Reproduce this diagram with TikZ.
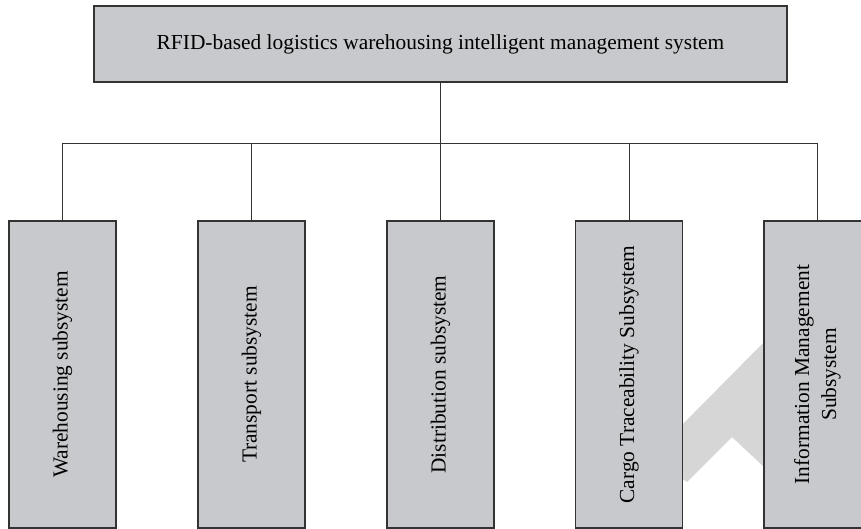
\documentclass[tikz,border=0pt]{standalone}
\usepackage{fontspec}
\setmainfont{Liberation Serif}
\definecolor{boxfill}{HTML}{C8C9CC}
\definecolor{wm}{HTML}{D6D6D6}
\definecolor{linec}{HTML}{333333}
\tikzset{
  topbox/.style={draw=linec, fill=boxfill, line width=1.1pt, minimum width=693pt, minimum height=76pt, inner sep=0pt,
    font=\fontsize{21.4}{26}\selectfont},
  subbox/.style={draw=linec, fill=boxfill, line width=1.1pt, minimum width=107pt, minimum height=307pt, inner sep=0pt},
  vlabel/.style={rotate=90, font=\fontsize{21.4}{27}\selectfont, align=center, inner sep=0pt},
  conn/.style={draw=linec, line width=1pt}
}
\begin{document}
\begin{tikzpicture}[x=1pt, y=-1pt]
\useasboundingbox (0,0) rectangle (861,529);
\begin{scope}
\clip (0,0) rectangle (861,529);
% watermark fragment
\fill[wm] (670,437) -- (764,342) -- (764,467) -- (732,437) -- (687,482) -- (670,470) -- cycle;
\node[topbox] (top) at (440.5,44) {RFID-based logistics warehousing intelligent management system};
\node[subbox] (w) at (62.5,374.5) {};
\node[subbox] (t) at (251.5,374.5) {};
\node[subbox] (d) at (440.5,374.5) {};
\node[subbox] (c) at (629,374.5) {};
\node[subbox] (i) at (817.5,374.5) {};
\node[vlabel] (wl) at (w.center) {Warehousing subsystem};
\node[vlabel] (tl) at (t.center) {Transport subsystem};
\node[vlabel] (dl) at (d.center) {Distribution subsystem};
\node[vlabel] (cl) at (c.center) {Cargo Traceability Subsystem};
\node[vlabel] (il) at (i.center) {Information Management\\Subsystem};
\coordinate (bus) at (0,144);
\draw[conn] (top.south) -- (d.north);
\draw[conn] (w.north) -- (w.north |- bus) -- (i.north |- bus) -- (i.north);
\draw[conn] (t.north) -- (t.north |- bus);
\draw[conn] (c.north) -- (c.north |- bus);
\end{scope}
\end{tikzpicture}
\end{document}
